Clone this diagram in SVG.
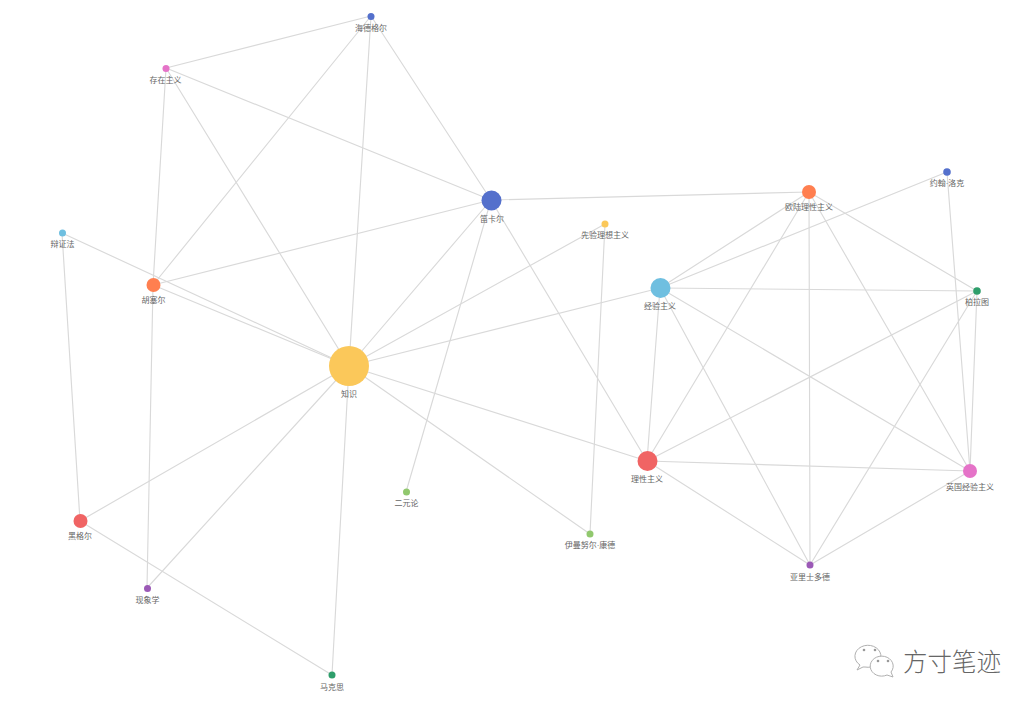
<svg xmlns="http://www.w3.org/2000/svg" width="1035" height="707" viewBox="0 0 1035 707">
<style>
.e{stroke:#d9d9d9;stroke-width:1.150;fill:none}
text{font-family:"Liberation Sans","Noto Sans CJK SC",sans-serif;font-size:8px;fill:#666;text-anchor:middle}
.b{fill:#fff;stroke:#b0b0b0;stroke-width:1}
.wm{font-family:"Noto Sans CJK SC",sans-serif;font-size:24.500px;fill:#666;text-anchor:start;font-weight:300}
</style>
<rect width="1035" height="707" fill="#fff"/>
<g id="connectors">
<path class="e" d="M371 16L166 68M371 16L153 285M371 16L349 366M371 16L491 200"/>
<path class="e" d="M166 68L153 285M166 68L349 366M166 68L491 200"/>
<path class="e" d="M491 200L153 285M491 200L349 366M491 200L406 492M491 200L647 461M491 200L809 192"/>
<path class="e" d="M62 233L349 366M62 233L80 521"/>
<path class="e" d="M153 285L349 366M153 285L147 588"/>
<path class="e" d="M349 366L605 224M349 366L660 288M349 366L647 461M349 366L590 534M349 366L332 675M349 366L147 588M349 366L80 521"/>
<path class="e" d="M80 521L332 675M605 224L590 534"/>
<path class="e" d="M809 192L660 288M809 192L647 461M809 192L810 565M809 192L970 471M809 192L977 291"/>
<path class="e" d="M947 172L660 288M947 172L970 471"/>
<path class="e" d="M977 291L660 288M977 291L647 461M977 291L810 565M977 291L970 471"/>
<path class="e" d="M660 288L647 461M660 288L810 565M660 288L970 471"/>
<path class="e" d="M647 461L970 471M647 461L810 565M970 471L810 565"/>
</g>
<g id="n-zhishi"><circle cx="349" cy="366" r="20" fill="#fbc85a"/><text x="349" y="397">知识</text></g>
<g id="n-descartes"><circle cx="491.500" cy="200.500" r="10" fill="#5470cc"/><text x="492" y="222">笛卡尔</text></g>
<g id="n-continental"><circle cx="809" cy="192" r="7" fill="#ff7f50"/><text x="809" y="210">欧陆理性主义</text></g>
<g id="n-locke"><circle cx="947" cy="172" r="3.800" fill="#5470cc"/><text x="947" y="186">约翰·洛克</text></g>
<g id="n-plato"><circle cx="977" cy="291" r="3.800" fill="#2e9e6b"/><text x="977" y="305">柏拉图</text></g>
<g id="n-empiricism"><circle cx="660.500" cy="288" r="10" fill="#6fbfe0"/><text x="660" y="309">经验主义</text></g>
<g id="n-transcendental"><circle cx="605" cy="224" r="3.500" fill="#fbc85a"/><text x="605" y="238">先验理想主义</text></g>
<g id="n-rationalism"><circle cx="647.500" cy="461" r="10" fill="#f06464"/><text x="647" y="482">理性主义</text></g>
<g id="n-british"><circle cx="970" cy="471" r="7" fill="#e573c8"/><text x="970" y="490">英国经验主义</text></g>
<g id="n-aristotle"><circle cx="810" cy="565" r="3.500" fill="#9b59b6"/><text x="810" y="580">亚里士多德</text></g>
<g id="n-kant"><circle cx="590" cy="534" r="3.500" fill="#91c86e"/><text x="590" y="548">伊曼努尔·康德</text></g>
<g id="n-dualism"><circle cx="406.500" cy="492" r="3.500" fill="#91c86e"/><text x="406.500" y="506">二元论</text></g>
<g id="n-marx"><circle cx="332" cy="675" r="3.500" fill="#2e9e6b"/><text x="332" y="690">马克思</text></g>
<g id="n-phenomenology"><circle cx="147.500" cy="588.500" r="3.500" fill="#9b59b6"/><text x="147.500" y="603">现象学</text></g>
<g id="n-hegel"><circle cx="80.500" cy="521" r="7" fill="#f06464"/><text x="80" y="539">黑格尔</text></g>
<g id="n-husserl"><circle cx="153.500" cy="285" r="7" fill="#ff7f50"/><text x="153.500" y="303">胡塞尔</text></g>
<g id="n-dialectic"><circle cx="62.500" cy="233" r="3.500" fill="#6fbfe0"/><text x="62.500" y="247">辩证法</text></g>
<g id="n-existentialism"><circle cx="166" cy="68.500" r="3.500" fill="#e573c8"/><text x="165.500" y="83">存在主义</text></g>
<g id="n-heidegger"><circle cx="371" cy="16.500" r="3.500" fill="#5470cc"/><text x="371" y="31">海德格尔</text></g>
<g id="watermark">
<path class="b" d="M863 667l-6 3 3-5a13 11 0 1 1 5 2z"/>
<path class="b" d="M887 675l6 2-2-5a11.500 10 0 1 0-4 3z"/>
<circle cx="864" cy="650" r="1.300" fill="#999"/><circle cx="875" cy="650" r="1.300" fill="#999"/>
<circle cx="878" cy="661" r="1.300" fill="#999"/><circle cx="888" cy="661" r="1.300" fill="#999"/>
<text class="wm" x="903" y="670.500">方寸笔迹</text>
</g>
</svg>
